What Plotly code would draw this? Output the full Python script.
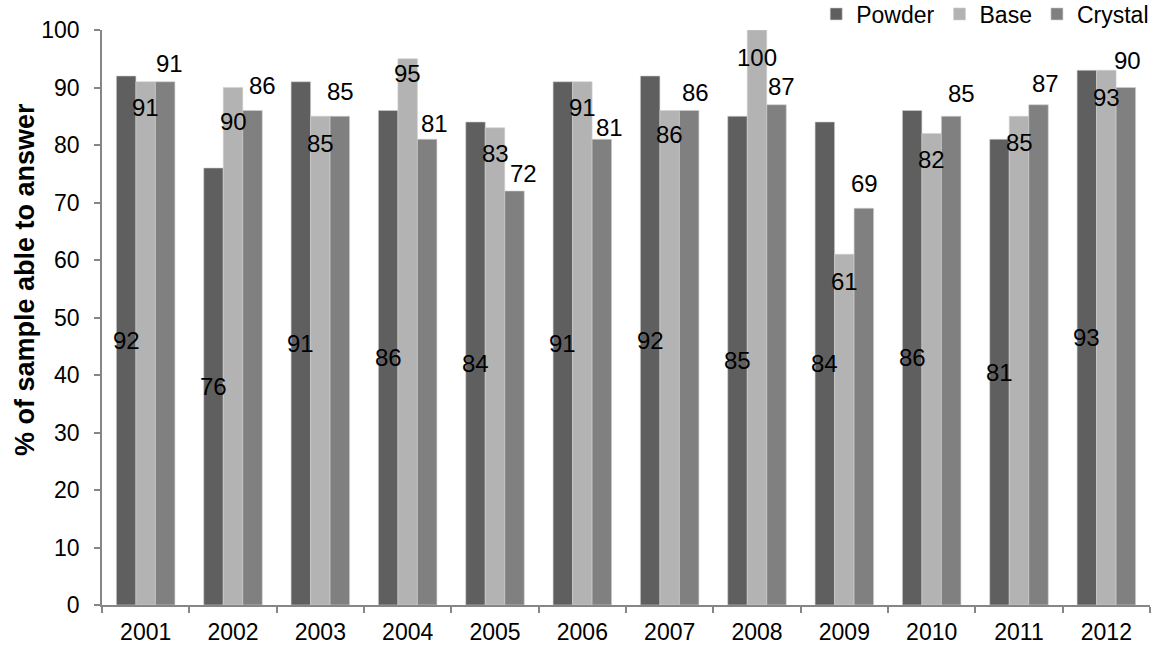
import plotly.graph_objects as go

# Survey years and the share of respondents (%) able to answer, by form
years = ["2001", "2002", "2003", "2004", "2005", "2006",
         "2007", "2008", "2009", "2010", "2011", "2012"]
powder = [92, 76, 91, 86, 84, 91, 92, 85, 84, 86, 81, 93]
base = [91, 90, 85, 95, 83, 91, 86, 100, 61, 82, 85, 93]
crystal = [91, 86, 85, 81, 72, 81, 86, 87, 69, 85, 87, 90]

# Hand-placed label nudges (pixels)
base_drop = [26, 34, 27, 15, 26, 26, 24, 27, 27, 26, 26, 27]
crystal_rise = [18, 25, 25, 16, 18, 12, 18, 18, 25, 23, 21, 27]
crystal_dx = [4, 10, 1, 7, 9, 8, 6, 5, 1, 10, 7, 2]

W, H = 1151, 645
M_L, M_R, M_T, M_B = 102, 1, 30, 40
BARGAP = 0.33
FONT = "Liberation Sans, Arial, sans-serif"
AXIS_GREY = "#868686"

colors = {"Powder": "#5f5f5f", "Base": "#b3b3b3", "Crystal": "#808080"}

fig = go.Figure()
for name, vals in (("Powder", powder), ("Base", base), ("Crystal", crystal)):
    fig.add_trace(go.Bar(
        x=years, y=vals, name=name,
        marker=dict(color=colors[name], line=dict(width=0.6, color="#d0d0d0")),
        hoverinfo="x+y+name",
    ))

# Pixel geometry of one category slot and one bar, from the layout settings
plot_w = W - M_L - M_R
plot_h = H - M_T - M_B
cat_px = plot_w / len(years)
bar_px = cat_px * (1 - BARGAP) / 3

label_font = dict(family=FONT, size=24, color="black")
ann = []
for i, yr in enumerate(years):
    # on a category axis a numeric x is the category's index
    ann.append(dict(x=i, y=powder[i] / 2, text=str(powder[i]),
                    xshift=-bar_px, showarrow=False, font=label_font))
    ann.append(dict(x=i, y=base[i], text=str(base[i]),
                    yshift=-base_drop[i], showarrow=False, font=label_font))
    ann.append(dict(x=i, y=crystal[i], text=str(crystal[i]),
                    xshift=bar_px + crystal_dx[i], yshift=crystal_rise[i],
                    showarrow=False, font=label_font))

# Y-axis title
ann.append(dict(
    xref="paper", yref="paper",
    x=(25 - M_L) / plot_w, y=(H - M_B - 280) / plot_h,
    text="<b>% of sample able to answer</b>", textangle=-90,
    showarrow=False, xanchor="center", yanchor="middle",
    font=dict(family=FONT, size=27, color="black"),
))

fig.update_layout(
    width=W, height=H,
    margin=dict(l=M_L, r=M_R, t=M_T, b=M_B, pad=0, autoexpand=False),
    barmode="group", bargap=BARGAP, bargroupgap=0,
    plot_bgcolor="white", paper_bgcolor="white",
    font=dict(family=FONT, size=23, color="black"),
    showlegend=True,
    legend=dict(
        orientation="h", x=1.004, xanchor="right",
        y=1 + 16 / plot_h, yanchor="middle",
        font=dict(family=FONT, size=23, color="black"),
        itemwidth=30, bgcolor="rgba(0,0,0,0)", traceorder="normal",
    ),
    annotations=ann,
    xaxis=dict(
        type="category", range=[-0.5, len(years) - 0.5],
        showgrid=False, showline=True,
        linecolor=AXIS_GREY, linewidth=1.5,
        ticks="outside", tickson="boundaries", ticklen=6,
        tickcolor=AXIS_GREY, tickwidth=1.5,
        tickfont=dict(family=FONT, size=23, color="black"),
        ticklabelstandoff=6, tickangle=0,
    ),
    yaxis=dict(
        range=[0, 100], dtick=10, showgrid=False, zeroline=False,
        showline=True, linecolor=AXIS_GREY, linewidth=1.5,
        ticks="outside", ticklen=6, tickcolor=AXIS_GREY, tickwidth=1.5,
        tickfont=dict(family=FONT, size=23, color="black"),
        ticklabelstandoff=10,
    ),
)

fig.write_html("out.html")
